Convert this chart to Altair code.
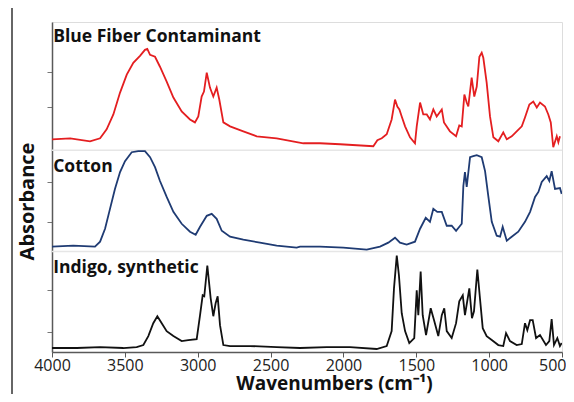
import altair as alt
import pandas as pd

# ---------------- data ----------------
series_names = ["Blue Fiber Contaminant", "Cotton", "Indigo, synthetic"]
series_colors = ["#e41e20", "#1f3b73", "#111111"]

fiber_wn = [4000, 3875, 3739, 3670, 3625, 3579, 3533, 3487, 3442, 3396, 3362, 3346, 3327, 3293, 3259,
            3213, 3167, 3110, 3053, 3019, 2996, 2973, 2957, 2938, 2916, 2893, 2870, 2852, 2824, 2778,
            2687, 2595, 2458, 2275, 2161, 2023, 1795, 1767, 1737, 1703, 1669, 1646, 1630, 1616, 1600,
            1577, 1543, 1509, 1497, 1474, 1452, 1428, 1406, 1383, 1360, 1325, 1310, 1269, 1227, 1205,
            1188, 1170, 1154, 1143, 1120, 1102, 1085, 1067, 1051, 1040, 1017, 994, 971, 937, 903,
            879, 845, 811, 776, 754, 724, 697, 673, 651, 617, 594, 577, 560, 536, 525, 514]
fiber_abs = [0.11, 0.12, 0.09, 0.12, 0.21, 0.36, 0.58, 0.76, 0.88, 0.95, 1.01, 1.02, 0.96, 0.94, 0.84,
             0.69, 0.53, 0.39, 0.31, 0.28, 0.34, 0.54, 0.59, 0.78, 0.63, 0.54, 0.63, 0.51, 0.28, 0.24,
             0.19, 0.14, 0.12, 0.07, 0.07, 0.06, 0.04, 0.10, 0.12, 0.16, 0.31, 0.51, 0.44, 0.41, 0.34,
             0.24, 0.13, 0.07, 0.24, 0.48, 0.36, 0.36, 0.31, 0.41, 0.34, 0.41, 0.28, 0.19, 0.14, 0.25,
             0.24, 0.56, 0.48, 0.44, 0.73, 0.54, 0.64, 0.94, 0.98, 0.93, 0.68, 0.34, 0.13, 0.09, 0.18,
             0.11, 0.14, 0.19, 0.24, 0.33, 0.46, 0.49, 0.43, 0.48, 0.44, 0.36, 0.28, 0.03, 0.14, 0.08, 0.14]

cotton_wn = [4000, 3854, 3705, 3670, 3636, 3602, 3568, 3533, 3499, 3453, 3408, 3362, 3327, 3293, 3259,
             3213, 3167, 3110, 3053, 3014, 2984, 2938, 2904, 2870, 2835, 2778, 2687, 2573, 2458, 2321,
             2298, 2161, 2001, 1840, 1749, 1692, 1646, 1612, 1566, 1509, 1474, 1435, 1406, 1383, 1356,
             1325, 1291, 1257, 1227, 1188, 1177, 1166, 1154, 1131, 1109, 1085, 1051, 1028, 1006, 982,
             948, 925, 907, 879, 845, 800, 754, 719, 685, 662, 639, 605, 587, 571, 548, 514, 502]
cotton_abs = [0.05, 0.06, 0.05, 0.10, 0.23, 0.43, 0.63, 0.80, 0.91, 1.00, 1.01, 1.01, 0.95, 0.85, 0.71,
              0.55, 0.40, 0.28, 0.20, 0.17, 0.25, 0.36, 0.38, 0.33, 0.21, 0.15, 0.12, 0.09, 0.06, 0.04,
              0.05, 0.05, 0.04, 0.02, 0.05, 0.09, 0.14, 0.09, 0.07, 0.10, 0.23, 0.34, 0.30, 0.43, 0.40,
              0.40, 0.26, 0.26, 0.21, 0.28, 0.66, 0.80, 0.65, 0.95, 0.96, 0.97, 0.95, 0.81, 0.56, 0.30,
              0.16, 0.15, 0.25, 0.11, 0.15, 0.20, 0.30, 0.40, 0.55, 0.60, 0.70, 0.76, 0.71, 0.81, 0.63, 0.64, 0.58]

indigo_wn = [4000, 3830, 3670, 3511, 3419, 3373, 3339, 3305, 3277, 3247, 3213, 3167, 3110, 3065, 3007,
             2984, 2966, 2955, 2934, 2911, 2893, 2877, 2863, 2847, 2824, 2778, 2641, 2458, 2298, 2115,
             1955, 1772, 1703, 1669, 1653, 1634, 1619, 1600, 1577, 1548, 1514, 1497, 1486, 1470, 1456,
             1433, 1401, 1378, 1349, 1325, 1308, 1291, 1257, 1227, 1205, 1181, 1166, 1136, 1118, 1104,
             1081, 1063, 1044, 1017, 982, 937, 903, 884, 857, 811, 776, 754, 738, 719, 701,
             678, 651, 610, 587, 571, 555, 532, 514, 502]
indigo_abs = [0.04, 0.04, 0.05, 0.04, 0.05, 0.07, 0.16, 0.29, 0.36, 0.29, 0.21, 0.16, 0.11, 0.12, 0.13,
              0.37, 0.57, 0.56, 0.87, 0.54, 0.36, 0.49, 0.56, 0.27, 0.07, 0.06, 0.06, 0.05, 0.04, 0.05,
              0.05, 0.03, 0.06, 0.21, 0.64, 0.97, 0.77, 0.39, 0.21, 0.09, 0.14, 0.62, 0.37, 0.81, 0.37,
              0.17, 0.44, 0.32, 0.16, 0.37, 0.44, 0.21, 0.14, 0.29, 0.51, 0.57, 0.37, 0.64, 0.34, 0.41,
              0.83, 0.54, 0.24, 0.16, 0.12, 0.07, 0.06, 0.19, 0.11, 0.07, 0.08, 0.29, 0.22, 0.32, 0.32,
              0.14, 0.17, 0.07, 0.11, 0.33, 0.07, 0.14, 0.06, 0.09]

x_ticks = [4000, 3500, 3000, 2500, 2000, 1500, 1000, 500]

# ---------------- layout (stack offsets / label spots) ----------------
offsets = [2.03, 1.01, 0.0]          # vertical offset of each stacked spectrum
separators = [2.03, 1.01]            # light panel dividers
label_y = [3.17, 1.86, 0.845]
label_x = 3992
y_ticks = [0.20, 0.62, 1.31, 1.71, 2.46, 2.82]
Y_MAX = 3.32

rows = []
for name, wn, ab, off in zip(series_names,
                             [fiber_wn, cotton_wn, indigo_wn],
                             [fiber_abs, cotton_abs, indigo_abs],
                             offsets):
    assert len(wn) == len(ab)
    for w, a in zip(wn, ab):
        rows.append({"spectrum": name, "wn": w, "abs": a, "y": a + off})
df = pd.DataFrame(rows)

labels = pd.DataFrame({"spectrum": series_names, "x": [label_x] * 3, "y": label_y})
seps = pd.DataFrame({"y": separators})

xscale = alt.Scale(domain=[4000, 500], nice=False, zero=False)
yscale = alt.Scale(domain=[0, Y_MAX], nice=False, zero=False)
color = alt.Color("spectrum:N", scale=alt.Scale(domain=series_names, range=series_colors), legend=None)

sep_layer = alt.Chart(seps).mark_rule(color="#e6e6e6", strokeWidth=1.5).encode(
    y=alt.Y("y:Q", scale=yscale)
)

last_tick = "datum.value == 500"

lines = alt.Chart(df).mark_line(strokeWidth=1.8, clip=True).encode(
    x=alt.X("wn:Q", scale=xscale,
            axis=alt.Axis(values=x_ticks, format="d", title="Wavenumbers (cm⁻¹)",
                          grid=False, tickSize=5, labelPadding=0, labelFontSize=16,
                          labelColor="#222", labelFont="Open Sans",
                          labelAlign={"condition": {"test": last_tick, "value": "right"}, "value": "center"},
                          labelOffset={"condition": {"test": last_tick, "value": 4}, "value": 0},
                          titleFont="Open Sans", titleFontSize=19, titleFontWeight="bold",
                          titleColor="#111", titleX=282, titleY=37, titleBaseline="alphabetic",
                          domainColor="#595959", domainWidth=1.5, tickColor="#595959",
                          labelFlush=False)),
    y=alt.Y("y:Q", scale=yscale,
            axis=alt.Axis(values=y_ticks, labels=False, title="Absorbance", grid=False,
                          tickSize=5, tickColor="#777", domainColor="#595959", domainWidth=1.5,
                          titleFont="Open Sans", titleFontSize=20, titleFontWeight="bold",
                          titleColor="#111", titleX=-25, titleY=179, titleBaseline="middle",
                          titleAngle=270, titleAlign="center")),
    color=color,
    detail="spectrum:N",
    order="wn:Q",
)

text = alt.Chart(labels).mark_text(align="left", baseline="middle", font="Open Sans",
                                   fontSize=17.5, fontWeight="bold", color="#111").encode(
    x=alt.X("x:Q", scale=xscale),
    y=alt.Y("y:Q", scale=yscale),
    text="spectrum:N",
)

# decorative outer border of the original figure
edge = alt.Chart(pd.DataFrame({"k": [0]})).mark_rule(color="#666", strokeWidth=2).encode(
    x=alt.value(-40), y=alt.value(-15), y2=alt.value(372)
)

chart = alt.layer(sep_layer, lines, text, edge).properties(
    width=510, height=330,
    autosize=alt.AutoSizeParams(type="none"),
    padding={"left": 44, "top": 14, "right": 4, "bottom": 42},
).configure_view(stroke="#595959", strokeWidth=1.5).configure(background="white")

chart.save("out.html", embed_options={"renderer": "svg", "actions": False})
